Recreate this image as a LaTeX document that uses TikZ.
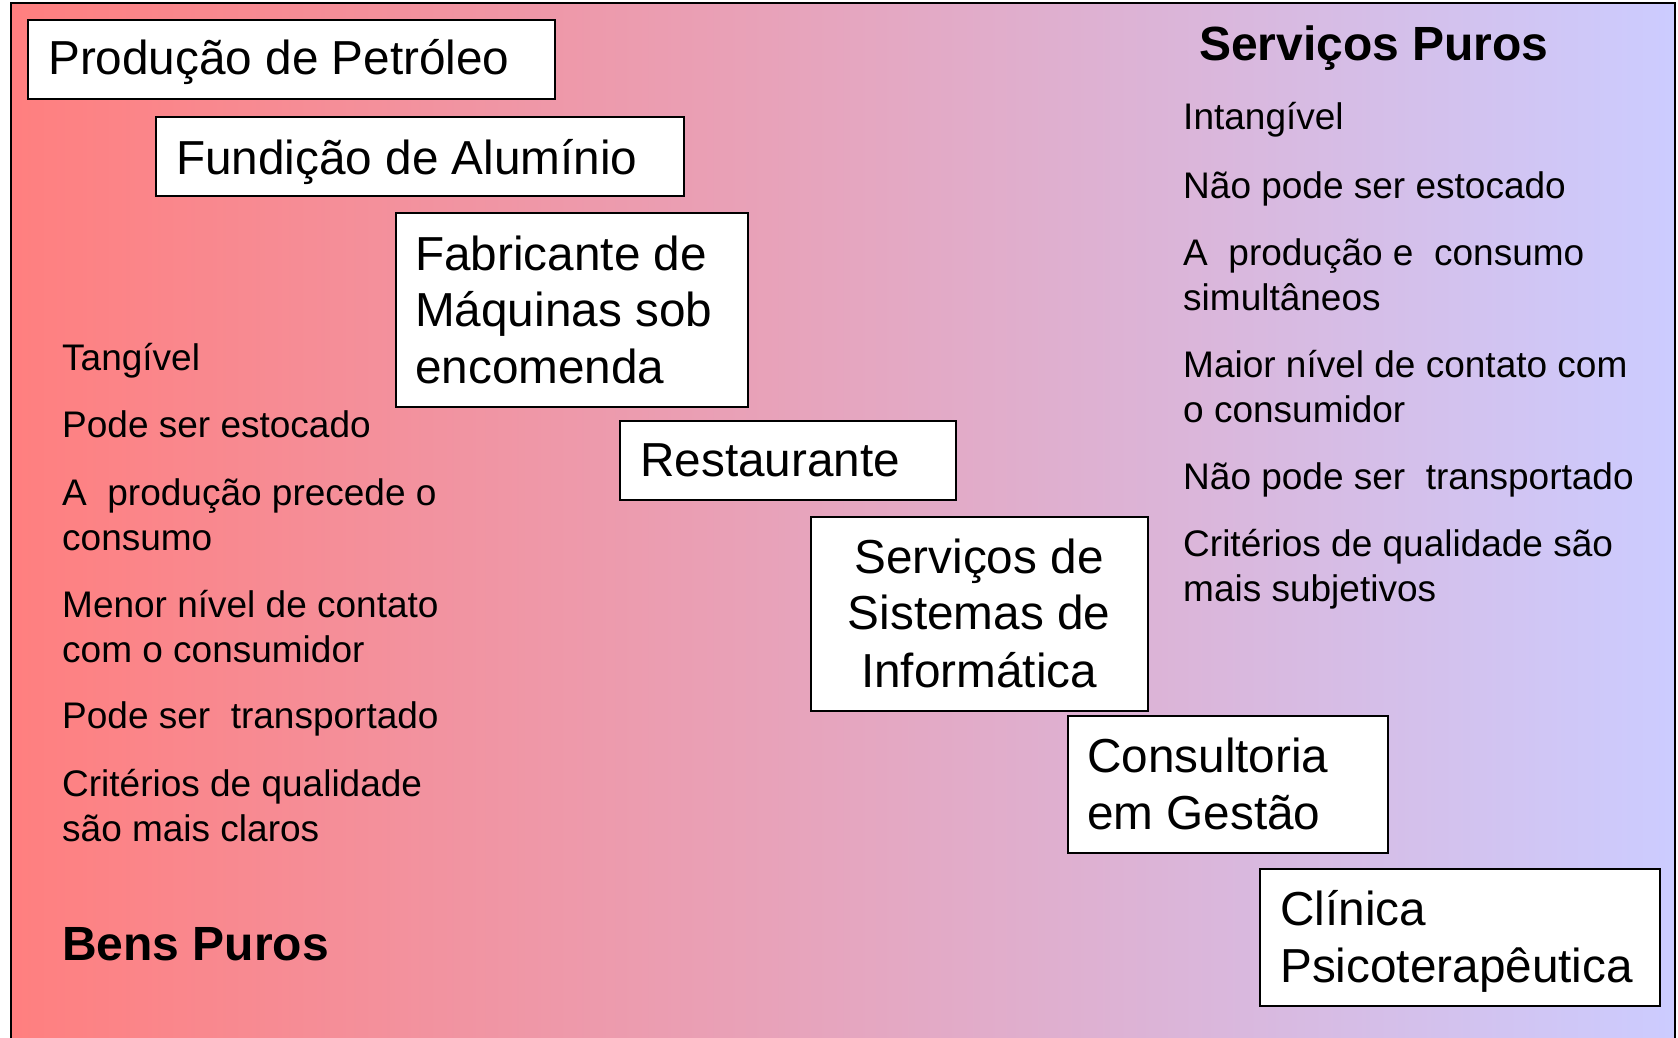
\documentclass[tikz,border=0pt]{standalone}
\usepackage{fontspec}
\setmainfont{Liberation Sans}
\definecolor{salL}{RGB}{255,127,127}
\definecolor{lavR}{RGB}{204,204,255}
\begin{document}
\begin{tikzpicture}[x=1pt,y=-1pt,
  box/.style={draw=black, line width=2pt, fill=white, inner sep=0pt, anchor=north west},
  boxtext/.style={anchor=base west, inner sep=0pt, font=\fontsize{47.7}{57}\selectfont},
  side/.style={anchor=base west, inner sep=0pt, font=\fontsize{37}{45}\selectfont},
  head/.style={anchor=base west, inner sep=0pt, font=\fontsize{48}{57}\selectfont\bfseries}]
\useasboundingbox (0,0) rectangle (1678,1038);
\clip (0,0) rectangle (1678,1038);
\shade[left color=salL, right color=lavR] (11,3) rectangle (1675,1060);
\draw[line width=2pt] (11,3) rectangle (1675,1060);

% boxes
\node[box, minimum width=527pt, minimum height=79pt] (b1) at (27,19) {};
\node[box, minimum width=528pt, minimum height=79pt] (b2) at (155,116) {};
\node[box, minimum width=352pt, minimum height=194pt] (b3) at (395,212) {};
\node[box, minimum width=336pt, minimum height=79pt] (b4) at (619,420) {};
\node[box, minimum width=337pt, minimum height=194pt] (b5) at (810,516) {};
\node[box, minimum width=320pt, minimum height=137pt] (b6) at (1067,715) {};
\node[box, minimum width=400pt, minimum height=137pt] (b7) at (1259,868) {};

% box texts
\node[boxtext] (t1) at (48,75) {Produção de Petróleo};
\node[boxtext] (t2) at (176,174) {Fundição de Alumínio};
\node[boxtext] (t3a) at (415,270) {Fabricante de};
\node[boxtext] (t3b) at (415,326) {Máquinas sob};
\node[boxtext] (t3c) at (415,383) {encomenda};
\node[boxtext] (t4) at (640,476) {Restaurante};
\node[boxtext, anchor=base] (t5a) at (979,573) {Serviços de};
\node[boxtext, anchor=base] (t5b) at (979,629) {Sistemas de};
\node[boxtext, anchor=base] (t5c) at (979,687) {Informática};
\node[boxtext] (t6a) at (1087,772) {Consultoria};
\node[boxtext] (t6b) at (1087,829) {em Gestão};
\node[boxtext] (t7a) at (1280,925) {Clínica};
\node[boxtext] (t7b) at (1280,982) {Psicoterapêutica};

% left column
\node[side] (l1) at (62,370) {Tangível};
\node[side] (l2) at (62,437) {Pode ser estocado};
\node[side] (l3a) at (62,505) {A\ \ produção precede o};
\node[side] (l3b) at (62,550) {consumo};
\node[side] (l4a) at (62,617) {Menor nível de contato};
\node[side] (l4b) at (62,662) {com o consumidor};
\node[side] (l5) at (62,728) {Pode ser\ \ transportado};
\node[side] (l6a) at (62,796) {Critérios de qualidade};
\node[side] (l6b) at (62,841) {são mais claros};
\node[head] (hb) at (62,960) {Bens Puros};

% right column
\node[head] (hs) at (1199,61) {Serviços Puros};
\node[side] (r1) at (1183,130) {Intangível};
\node[side] (r2) at (1183,198) {Não pode ser estocado};
\node[side] (r3a) at (1183,265) {A\ \ produção e\ \ consumo};
\node[side] (r3b) at (1183,310) {simultâneos};
\node[side] (r4a) at (1183,377) {Maior nível de contato com};
\node[side] (r4b) at (1183,422) {o consumidor};
\node[side] (r5) at (1183,489) {Não pode ser\ \ transportado};
\node[side] (r6a) at (1183,556) {Critérios de qualidade são};
\node[side] (r6b) at (1183,601) {mais subjetivos};
\end{tikzpicture}
\end{document}
